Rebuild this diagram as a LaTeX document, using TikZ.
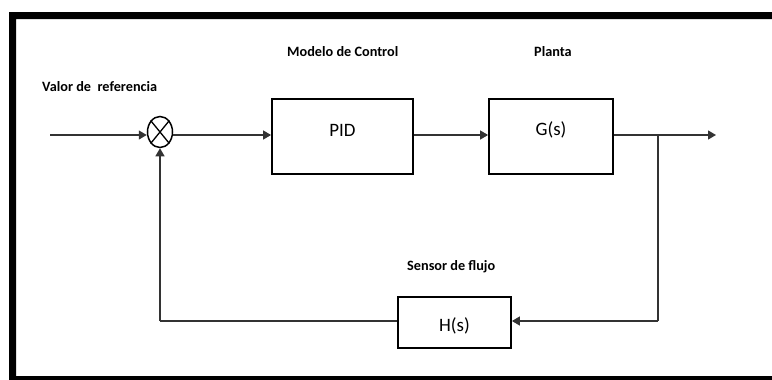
\documentclass[tikz,border=0pt]{standalone}
\usepackage{fontspec}
\setmainfont{Carlito}
\usetikzlibrary{arrows.meta,shapes.geometric}
\begin{document}
\begin{tikzpicture}[x=1bp,y=-1bp,
  blk/.style={draw=black,line width=1.8bp,minimum width=141bp,minimum height=75bp,inner sep=0pt},
  btxt/.style={font=\fontsize{19}{19}\selectfont,inner sep=0pt},
  lbl/.style={font=\bfseries\fontsize{14.3}{15}\selectfont,inner sep=0pt,anchor=west},
  sig/.style={draw=black!80,line width=1.3bp,-{Triangle[length=8bp,width=9bp]}},
  ln/.style={draw=black!80,line width=1.3bp}]
\useasboundingbox (0,0) rectangle (772,379);
% frame
\fill[black,even odd rule] (9,12) rectangle (780,384) (16,19) rectangle (780,376);
% blocks
\node[blk,minimum width=141bp] (pid) at (342.5,136.5) {};
\node[btxt] (tpid) at (342.5,130) {PID};
\node[blk,minimum width=124bp] (g) at (551,136.5) {};
\node[btxt] (tg) at (551,130) {G(s)};
\node[blk,minimum width=113bp,minimum height=51bp] (h) at (454.5,322.5) {};
\node[btxt] (th) at (454.5,326) {H(s)};
% summing junction
\node[draw=black,line width=1.5bp,ellipse,minimum width=25bp,minimum height=31bp,inner sep=0pt] (sum) at (160,132) {};
\draw[black,line width=1.3bp] (sum.north west) -- (sum.south east) (sum.north east) -- (sum.south west);
% coordinates
\coordinate (in) at (50,135);
\coordinate (br) at (658,135);
\coordinate (out) at (716,135);
\coordinate (fbr) at (658,321);
\coordinate (fbl) at (160,321);
% connectors
\draw[sig] (in) -- (sum.west |- in);
\draw[sig] (sum.east |- in) -- (pid.west |- in);
\draw[sig] (pid.east |- in) -- (g.west |- in);
\draw[sig] (g.east |- in) -- (out);
\draw[ln] (br) -- (fbr);
\draw[sig] (fbr) -- (h.east |- fbr);
\draw[ln] (h.west |- fbr) -- (fbl);
\draw[sig] (fbl) -- (sum.south);
% labels
\node[lbl] (lref) at (42,87) {Valor de \ referencia};
\node[lbl] (lctl) at (287,52) {Modelo de Control};
\node[lbl] (lpl) at (534,52) {Planta};
\node[lbl] (lsen) at (407,267) {Sensor de flujo};
\end{tikzpicture}
\end{document}
